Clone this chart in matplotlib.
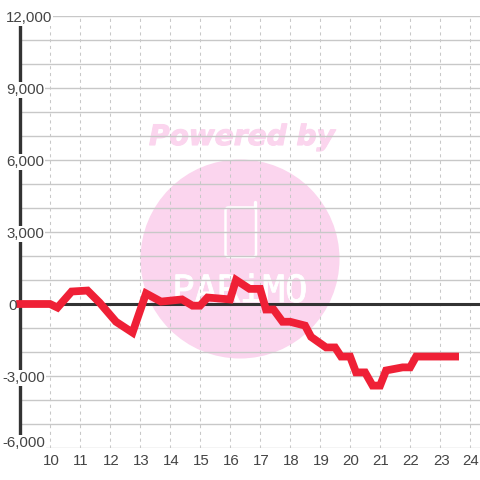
import matplotlib
matplotlib.use("Agg")
import matplotlib.pyplot as plt
import matplotlib.patheffects as pe
from matplotlib.patches import Circle, FancyBboxPatch
from matplotlib.lines import Line2D
from matplotlib.transforms import Affine2D

hours = [9, 10, 10.25, 10.72, 11.25, 11.65, 12.2, 12.75, 13.2, 13.7, 14.4, 14.75, 15, 15.25, 16,
         16.2, 16.65, 17, 17.2, 17.45, 17.75, 18, 18.5, 18.7, 19.2, 19.5, 19.7, 20, 20.2, 20.5,
         20.75, 21, 21.2, 21.75, 22, 22.2, 23.5]
values = [0, 0, -150, 520, 560, 60, -740, -1190, 440, 100, 190, -70, -70, 270, 190,
          1000, 630, 630, -230, -230, -740, -740, -900, -1370, -1810, -1810, -2190, -2190, -2850, -2850,
          -3400, -3400, -2770, -2640, -2640, -2190, -2190]
x_ticks = list(range(10, 25))
y_major = [12000, 9000, 6000, 3000, 0, -3000, -6000]
y_labels = ["12,000", "9,000", "6,000", "3,000", "0", "-3,000", "-6,000"]
y_grid = list(range(-6000, 12001, 1000))

DARK = "#333333"
GRID = "#c8c8c8"
TEXT = "#444444"
RED = "#ef2036"
PINK = "#fbd5ee"

plt.rcParams["font.family"] = ["Liberation Sans", "DejaVu Sans"]
fig = plt.figure(figsize=(4.8, 4.8), dpi=100)
W = H = 480.0
ax = fig.add_axes([20 / W, 1 - 448 / H, 460 / W, 432 / H])
ax.set_zorder(1)
ax.set_xlim(9, 24.33)
ax.set_ylim(-6000, 12000)
for s in ax.spines.values():
    s.set_visible(False)
ax.set_xticks([])
ax.set_yticks([])
ax.patch.set_visible(False)

# pixel transform, y down
px = Affine2D().scale(1, -1).translate(0, H)

# watermark
fig.patches.append(Circle((240, 259), 99.5, transform=px, fc=PINK, ec="none", zorder=0.1))
fig.patches.append(FancyBboxPatch((225.5, 207.5), 30.5, 49.5, boxstyle="round,pad=0,rounding_size=3", transform=px,
                                  fc="none", ec="white", lw=1.8, zorder=0.2))
fig.lines.append(Line2D([254.5, 254.5], [207, 201.5], transform=px, color="white", lw=2.4,
                        solid_capstyle="round", zorder=0.2))
fig.text(149 / W, 1 - 145 / H, "Powered by", color=PINK, family="DejaVu Sans", weight="bold", style="oblique",
         fontsize=20.2, ha="left", va="baseline", zorder=0.2,
         path_effects=[pe.withStroke(linewidth=0.8, foreground=PINK)])
fig.text(240 / W, 1 - 302 / H, "PARiMO", color="white", family="DejaVu Sans Mono", fontsize=27,
         ha="center", va="baseline", zorder=0.2,
         path_effects=[pe.withStroke(linewidth=0.6, foreground="white")])

for v in y_grid:
    ax.axhline(v, color=GRID, lw=1.0, zorder=1)
for t in x_ticks:
    ax.axvline(t, color=GRID, lw=0.75, ls=(0, (3, 3.5)), zorder=1)
ax.axhline(0, color=DARK, lw=2.2, zorder=2)
ax.axvline(9, color=DARK, lw=2.4, zorder=2, clip_on=False)

ax.plot(hours, values, color=RED, lw=5.6, zorder=3, solid_joinstyle="miter", solid_capstyle="projecting", clip_on=False)

lefts = [6, 6, 6, 6, 8, 2, 2]
shift = [2, 2, 2, 2, 2, 2, -5]
bb = dict(fc="white", ec="none", pad=0.8)
for v, lab, lx, sh in zip(y_major, y_labels, lefts, shift):
    y_px = ax.transData.transform((9, v))[1] - sh
    fig.text(lx / W, y_px / H, lab, color=TEXT, fontsize=10.8, ha="left", va="center", zorder=4,
             bbox=None if lab == "0" else bb)
for t in x_ticks:
    ax.annotate(str(t), (t, 0), xycoords=("data", "axes fraction"), xytext=(1, -13), textcoords="offset pixels",
                ha="center", va="center", color=TEXT, fontsize=10.8, zorder=4, annotation_clip=False)

fig.savefig("out.png", dpi=100, facecolor="white")
